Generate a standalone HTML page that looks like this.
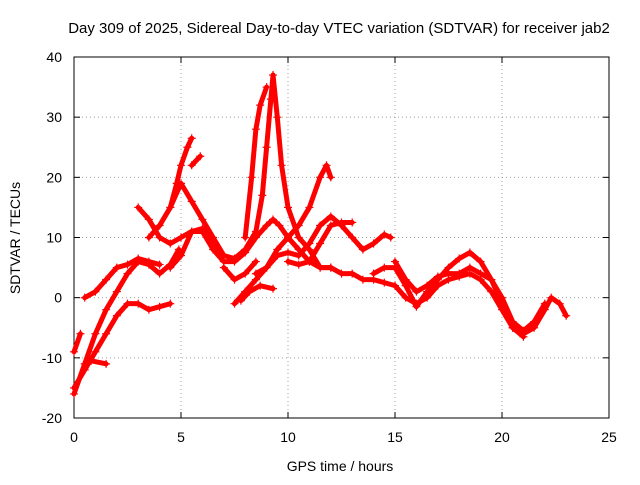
<!DOCTYPE html>
<html><head><meta charset="utf-8"><style>
html,body{margin:0;padding:0;background:#fff;}
svg text{font-family:"Liberation Sans",sans-serif;font-size:14px;fill:#000;}
</style></head><body>
<svg id="chart" width="640" height="480" viewBox="0 0 640 480" xmlns="http://www.w3.org/2000/svg">
<rect width="640" height="480" fill="#fff"/>
<text x="339" y="33" text-anchor="middle" style="font-size:15px">Day 309 of 2025, Sidereal Day-to-day VTEC variation (SDTVAR) for receiver jab2</text>
<g id="grid"></g>
<g id="axes"></g>
<g id="series"></g>
<text x="340" y="471" text-anchor="middle">GPS time / hours</text>
<text transform="translate(20,238) rotate(-90)" text-anchor="middle">SDTVAR / TECUs</text>
</svg>
<script>
const xTicks=[0,5,10,15,20,25];
const yTicks=[-20,-10,0,10,20,30,40];
const trackA=[[0,-16],[0.5,-11],[1,-6],[1.5,-2],[2,1],[2.5,4],[3,6],[3.5,5.5],[4,4],[4.5,5.5],[4.9,8]];
const trackB=[[0,-15],[0.5,-12],[1,-9],[1.5,-6],[2,-3],[2.5,-1],[3,-1],[3.5,-2],[4,-1.5],[4.5,-1]];
const trackC=[[0,-9],[0.3,-6]];
const trackC2=[[0.8,-10.5],[1.5,-11]];
const trackD=[[0.5,0],[1,1],[1.5,3],[2,5],[2.5,5.5],[3,6.5],[3.5,6],[4,5.5]];
const trackE=[[3,15],[3.5,13],[4,10],[4.5,9],[5,10],[5.5,11],[6,11],[6.5,8],[7,6],[7.5,6],[8,7.5],[8.5,10],[9,12],[9.3,13],[9.6,12],[10,10],[10.5,8],[11,6],[11.5,5],[12,5],[12.5,4],[13,4],[13.5,3],[14,3],[14.5,2.5],[15,2],[15.5,0],[16,-1],[16.5,0],[17,2],[17.5,3],[18,3.5],[18.5,4],[19,3],[19.5,1],[20,-2],[20.5,-5],[21,-6],[21.5,-5],[22,-2],[22.3,0],[22.7,-1],[23,-3]];
const trackF=[[3.5,10],[4,12],[4.5,15],[4.8,19],[5,22],[5.3,25],[5.5,26.5]];
const trackF2=[[4.5,15],[5,19],[5.5,16],[6,13],[6.5,10],[7,7],[7.5,6.5],[8,8],[8.5,11],[8.8,17],[9,25],[9.2,33],[9.3,37],[9.5,30],[9.7,22],[10,15],[10.5,10],[11,8],[11.5,5],[12,5]];
const trackG=[[5.5,22],[5.9,23.5]];
const trackH=[[8,10],[8.3,20],[8.5,28],[8.7,32],[9,35]];
const trackI=[[7.5,-1],[8,1],[8.5,3],[9,5],[9.5,7],[10,7.5],[10.5,7],[11,9],[11.5,12],[12,13.5],[12.5,12],[13,10],[13.5,8],[14,9],[14.5,10.5],[14.8,10]];
const trackJ=[[8.5,4],[9,5],[9.5,8],[10,10],[10.5,12],[11,15],[11.5,20],[11.8,22],[12,20]];
const trackK=[[7.8,-0.5],[8.2,1],[8.7,2],[9.3,1.5]];
const trackL=[[10,6],[10.5,5.5],[11,6],[11.5,9],[12,12],[12.5,12.5],[13,12.5]];
const trackM=[[14,4],[14.5,5],[15,5],[15.5,2],[16,-1.5],[16.5,1],[17,3],[17.5,5],[18,6.5],[18.5,7.5],[19,6],[19.5,3],[20,-1],[20.5,-5],[21,-6.5]];
const trackN=[[15,6],[15.5,3],[16,1],[16.5,2],[17,3.5],[17.5,4],[18,4],[18.5,5],[19,4],[19.5,3],[20,0],[20.5,-4],[21,-5.5],[21.5,-4],[22,-1]];
const trackO=[[4.5,5],[5,7],[5.5,11],[6,11.5],[6.5,9],[7,7]];
const trackP=[[7,5],[7.5,3],[8,4],[8.5,6]];
const tracks=[trackA,trackB,trackC,trackC2,trackD,trackE,trackF,trackF2,trackG,trackH,trackI,trackJ,trackK,trackL,trackM,trackN,trackO,trackP];

const X0=74,X1=609,Y0=418,Y1=57;
const sx=v=>X0+(v-0)/(25-0)*(X1-X0);
const sy=v=>Y0-(v+20)/(60)*(Y0-Y1);
const NS="http://www.w3.org/2000/svg";
const mk=(t,a,p)=>{const e=document.createElementNS(NS,t);for(const k in a)e.setAttribute(k,a[k]);p.appendChild(e);return e;};
const grid=document.getElementById('grid'),axes=document.getElementById('axes'),ser=document.getElementById('series');
xTicks.forEach(t=>{
  const x=sx(t);
  if(t>0&&t<25){const l=mk('line',{x1:x,x2:x,y1:Y1,y2:Y0,stroke:'#a0a0a0','stroke-dasharray':'1,3'},grid);
  
  }
  mk('line',{x1:x,x2:x,y1:Y0,y2:Y0-6,stroke:'#000'},axes);
  mk('line',{x1:x,x2:x,y1:Y1,y2:Y1+6,stroke:'#000'},axes);
  const tx=mk('text',{x:x,y:Y0+24,'text-anchor':'middle'},axes);tx.textContent=t;
  
  
});
yTicks.forEach(t=>{
  const y=sy(t);
  if(t>-20&&t<40){const l=mk('line',{x1:X0,x2:X1,y1:y,y2:y,stroke:'#a0a0a0','stroke-dasharray':'1,3'},grid);
  
  }
  mk('line',{x1:X0,x2:X0+6,y1:y,y2:y,stroke:'#000'},axes);
  mk('line',{x1:X1,x2:X1-6,y1:y,y2:y,stroke:'#000'},axes);
  const tx=mk('text',{x:X0-12,y:y+5,'text-anchor':'end'},axes);tx.textContent=t;
  
  
});
const fr=mk('rect',{x:X0,y:Y1,width:X1-X0,height:Y0-Y1,fill:'none',stroke:'#000'},axes);


tracks.forEach((tr,i)=>{
  const pl=mk('polyline',{points:tr.map(p=>sx(p[0])+','+sy(p[1])).join(' '),fill:'none',stroke:'#f00','stroke-width':5,'stroke-linejoin':'round','stroke-linecap':'round'},ser);
  
  
  tr.forEach(p=>{
    const x=sx(p[0]),y=sy(p[1]);
    const m=mk('path',{d:`M${x-4},${y}H${x+4}M${x},${y-4}V${y+4}`,stroke:'#f00','stroke-width':1.2},ser);
    
    
  });
});
</script>
</body></html>
